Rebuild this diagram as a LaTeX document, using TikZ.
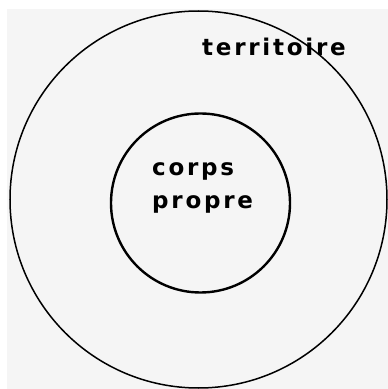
\documentclass[tikz,border=0pt]{standalone}
\usepackage{fontspec}
\newfontfamily\handfont[LetterSpace=12]{DejaVu Sans Bold}
\usetikzlibrary{positioning}
\tikzset{
  paper/.style={fill=gray!8, draw=none},
  ringline/.style={draw=black, line width=1.5pt},
  bodyline/.style={draw=black, line width=2.4pt},
  handtext/.style={font=\handfont\fontsize{23}{33}\selectfont, inner sep=0pt, align=left, text=black},
}
\begin{document}
\begin{tikzpicture}[x=1pt,y=1pt]
  \useasboundingbox (0,0) rectangle (388,389);
  \fill[white] (0,0) rectangle (388,389);
  \fill[paper] (7,0) rectangle (388,380);

  \coordinate (mid) at (198.5,189.5);
  \coordinate (inmid) at (200.5,186);

  % the two rings
  \draw[ringline] (mid) circle (188.5);
  \draw[bodyline] (inmid) circle (89.5);

  \node[handtext] (terr) at (274,342) {territoire};
  \node[handtext, anchor=west] (corps) at (152,201) {corps\\propre};
\end{tikzpicture}
\end{document}
